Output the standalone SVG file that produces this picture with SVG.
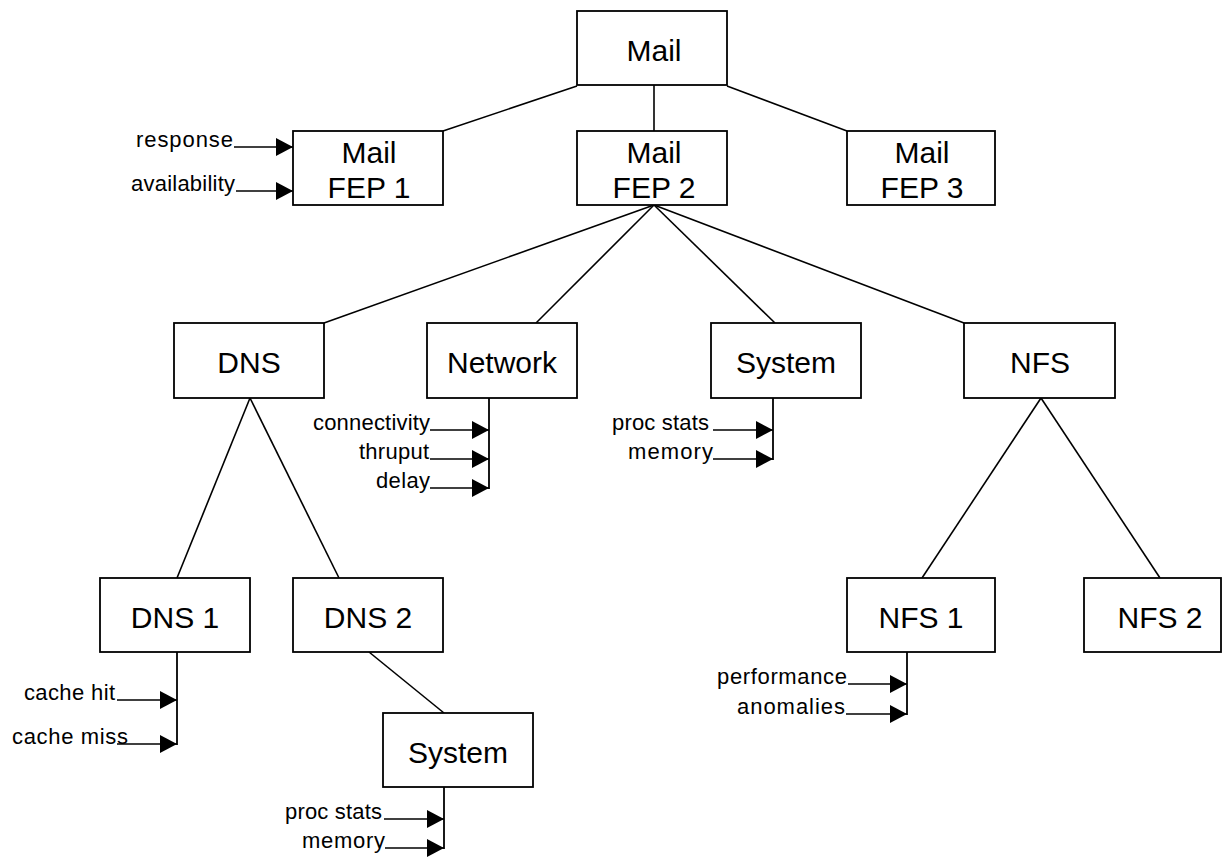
<svg xmlns="http://www.w3.org/2000/svg" width="1222" height="857" viewBox="0 0 1222 857">
  <style>
    .box rect { fill: #ffffff; stroke: #000000; stroke-width: 1.8; }
    .box text { font-family: "Liberation Sans", Arial, sans-serif; font-size: 30px; text-anchor: middle; fill: #000000; }
    .edge { stroke: #000000; stroke-width: 1.6; fill: none; }
    .metric { stroke: #000000; stroke-width: 1.6; fill: none; marker-end: url(#tip); }
    .bar { stroke: #000000; stroke-width: 1.8; fill: none; }
    .lbl { font-family: "Liberation Sans", Arial, sans-serif; font-size: 22px; text-anchor: end; fill: #000000; }
  </style>
  <defs>
    <marker id="tip" viewBox="0 0 17 18" refX="17" refY="9" markerWidth="17" markerHeight="18" markerUnits="userSpaceOnUse" orient="auto">
      <path d="M0,0 L17,9 L0,18 z" fill="#000000"/>
    </marker>
  </defs>
  <rect width="1222" height="857" fill="#ffffff"/>

  <!-- tree connectors -->
  <g id="connectors">
    <line class="edge" x1="577" y1="86" x2="443" y2="131"/>
    <line class="edge" x1="654" y1="85" x2="654" y2="131"/>
    <line class="edge" x1="727" y1="86" x2="847" y2="131"/>
    <line class="edge" x1="654" y1="205" x2="324" y2="323"/>
    <line class="edge" x1="654" y1="205" x2="536" y2="323"/>
    <line class="edge" x1="654" y1="205" x2="775" y2="323"/>
    <line class="edge" x1="654" y1="205" x2="964" y2="323"/>
    <line class="edge" x1="250" y1="398" x2="177" y2="578"/>
    <line class="edge" x1="250" y1="398" x2="339" y2="578"/>
    <line class="edge" x1="369" y1="652" x2="444" y2="713"/>
    <line class="edge" x1="1041" y1="398" x2="922" y2="578"/>
    <line class="edge" x1="1041" y1="398" x2="1160" y2="578"/>
  </g>

  <!-- nodes -->
  <g id="mail" class="box">
    <rect x="577" y="11" width="150" height="74"/>
    <text x="654" y="61">Mail</text>
  </g>
  <g id="fep1" class="box">
    <rect x="293" y="131" width="150" height="74"/>
    <text x="369" y="163">Mail</text>
    <text x="369" y="198">FEP 1</text>
  </g>
  <g id="fep2" class="box">
    <rect x="577" y="131" width="150" height="74"/>
    <text x="654" y="163">Mail</text>
    <text x="654" y="198">FEP 2</text>
  </g>
  <g id="fep3" class="box">
    <rect x="847" y="131" width="148" height="74"/>
    <text x="922" y="163">Mail</text>
    <text x="922" y="198">FEP 3</text>
  </g>
  <g id="dns" class="box">
    <rect x="174" y="323" width="150" height="75"/>
    <text x="249" y="373">DNS</text>
  </g>
  <g id="network" class="box">
    <rect x="427" y="323" width="150" height="75"/>
    <text x="502" y="373">Network</text>
  </g>
  <g id="system" class="box">
    <rect x="711" y="323" width="150" height="75"/>
    <text x="786" y="373">System</text>
  </g>
  <g id="nfs" class="box">
    <rect x="964" y="323" width="151" height="75"/>
    <text x="1040" y="373">NFS</text>
  </g>
  <g id="dns1" class="box">
    <rect x="100" y="578" width="150" height="74"/>
    <text x="175" y="628">DNS 1</text>
  </g>
  <g id="dns2" class="box">
    <rect x="293" y="578" width="150" height="74"/>
    <text x="368" y="628">DNS 2</text>
  </g>
  <g id="dns2-system" class="box">
    <rect x="383" y="713" width="150" height="74"/>
    <text x="458" y="763">System</text>
  </g>
  <g id="nfs1" class="box">
    <rect x="847" y="578" width="148" height="74"/>
    <text x="921" y="628">NFS 1</text>
  </g>
  <g id="nfs2" class="box">
    <rect x="1084" y="578" width="137" height="74"/>
    <text x="1160" y="628">NFS 2</text>
  </g>

  <!-- measured inputs -->
  <g id="metrics">
    <!-- Mail FEP 1 -->
    <line class="metric" x1="234" y1="147" x2="293" y2="147"/>
    <text class="lbl" x="233" y="147" textLength="97" lengthAdjust="spacing">response</text>
    <line class="metric" x1="236" y1="191" x2="293" y2="191"/>
    <text class="lbl" x="235" y="191" textLength="104" lengthAdjust="spacing">availability</text>

    <!-- Network -->
    <line class="bar" x1="489" y1="398" x2="489" y2="489"/>
    <line class="metric" x1="430" y1="430" x2="489" y2="430"/>
    <text class="lbl" x="430" y="430" textLength="117" lengthAdjust="spacing">connectivity</text>
    <line class="metric" x1="430" y1="459" x2="489" y2="459"/>
    <text class="lbl" x="429" y="459" textLength="70" lengthAdjust="spacing">thruput</text>
    <line class="metric" x1="430" y1="488" x2="489" y2="488"/>
    <text class="lbl" x="430" y="488" textLength="54" lengthAdjust="spacing">delay</text>

    <!-- System -->
    <line class="bar" x1="773" y1="398" x2="773" y2="460"/>
    <line class="metric" x1="713" y1="430" x2="773" y2="430"/>
    <text class="lbl" x="709" y="430" textLength="97" lengthAdjust="spacing">proc stats</text>
    <line class="metric" x1="713" y1="459" x2="773" y2="459"/>
    <text class="lbl" x="713" y="459" textLength="85" lengthAdjust="spacing">memory</text>

    <!-- DNS 1 -->
    <line class="bar" x1="177" y1="652" x2="177" y2="745"/>
    <line class="metric" x1="117" y1="700" x2="177" y2="700"/>
    <text class="lbl" x="115" y="700" textLength="91" lengthAdjust="spacing">cache hit</text>
    <line class="metric" x1="117" y1="744" x2="177" y2="744"/>
    <text class="lbl" x="128" y="744" textLength="116" lengthAdjust="spacing">cache miss</text>

    <!-- DNS 2 / System -->
    <line class="bar" x1="444" y1="787" x2="444" y2="849"/>
    <line class="metric" x1="384" y1="819" x2="444" y2="819"/>
    <text class="lbl" x="382" y="819" textLength="97" lengthAdjust="spacing">proc stats</text>
    <line class="metric" x1="385" y1="848" x2="444" y2="848"/>
    <text class="lbl" x="385" y="848" textLength="83" lengthAdjust="spacing">memory</text>

    <!-- NFS 1 -->
    <line class="bar" x1="907" y1="652" x2="907" y2="715"/>
    <line class="metric" x1="848" y1="684" x2="907" y2="684"/>
    <text class="lbl" x="847" y="684" textLength="130" lengthAdjust="spacing">performance</text>
    <line class="metric" x1="846" y1="714" x2="907" y2="714"/>
    <text class="lbl" x="845" y="714" textLength="108" lengthAdjust="spacing">anomalies</text>
  </g>
</svg>
